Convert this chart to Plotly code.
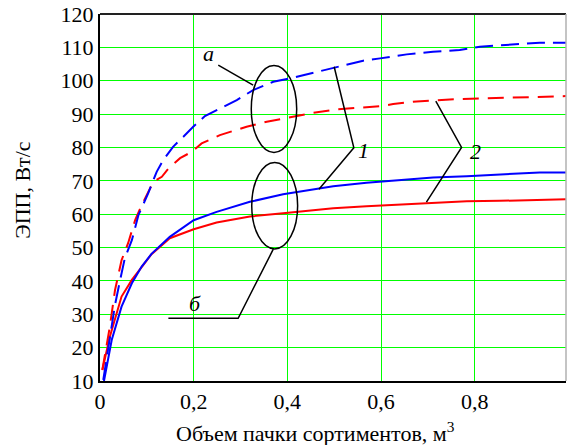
import plotly.graph_objects as go

# --- data ---
x_a1 = [0.007, 0.021, 0.032, 0.043, 0.053, 0.068, 0.082, 0.103, 0.121, 0.135, 0.156, 0.178, 0.199,
        0.224, 0.249, 0.292, 0.327, 0.37, 0.406, 0.463, 0.505, 0.562, 0.598, 0.655, 0.711, 0.768,
        0.811, 0.882, 0.939, 0.995]
y_a1 = [10.3, 22.3, 32.8, 40.3, 46.8, 52.2, 59.7, 66.3, 72.7, 76.2, 80.2, 83.2, 86.2,
        89.4, 91.2, 94.2, 97.2, 99.7, 100.7, 102.7, 104.2, 106.0, 106.7, 107.9, 108.7, 109.2,
        110.2, 110.9, 111.4, 111.4]

x_a2 = [0.005, 0.021, 0.032, 0.046, 0.06, 0.075, 0.089, 0.114, 0.132, 0.146, 0.171, 0.196, 0.217,
        0.256, 0.313, 0.356, 0.4, 0.448, 0.505, 0.6, 0.626, 0.676, 0.747, 0.811, 0.882, 0.995]
y_a2 = [13.3, 26.3, 37.2, 46.2, 51.3, 58.2, 62.7, 69.7, 71.2, 73.7, 76.8, 78.7, 81.2,
        83.7, 86.2, 87.7, 88.9, 90.2, 91.4, 92.4, 93.0, 93.8, 94.4, 94.7, 94.9, 95.4]

x_b1 = [0.0085, 0.025, 0.046, 0.068, 0.089, 0.11, 0.149, 0.2, 0.249, 0.32, 0.391, 0.448, 0.498,
        0.569, 0.64, 0.711, 0.783, 0.854, 0.939, 0.995]
y_b1 = [10.0, 22.3, 32.3, 39.3, 44.3, 48.1, 53.2, 58.2, 60.7, 63.7, 66.0, 67.2, 68.4,
        69.4, 70.2, 71.0, 71.4, 71.9, 72.5, 72.5]

x_b2 = [0.005, 0.021, 0.046, 0.068, 0.089, 0.11, 0.149, 0.2, 0.249, 0.32, 0.391, 0.448, 0.498,
        0.569, 0.64, 0.711, 0.783, 0.854, 0.939, 0.995]
y_b2 = [13.3, 23.3, 35.3, 40.3, 44.1, 48.0, 52.8, 55.5, 57.5, 59.3, 60.3, 61.0, 61.8,
        62.4, 62.9, 63.4, 63.9, 64.0, 64.4, 64.5]

x_ticks = [0, 0.2, 0.4, 0.6, 0.8]
x_tick_labels = ["0", "0,2", "0,4", "0,6", "0,8"]
y_ticks = [10, 20, 30, 40, 50, 60, 70, 80, 90, 100, 110, 120]

FONT = "Liberation Serif"
BLUE = "#0000ff"
RED = "#ff0000"

fig = go.Figure()
fig.add_trace(go.Scatter(x=x_b2, y=y_b2, mode="lines", line=dict(color=RED, width=2), showlegend=False))
fig.add_trace(go.Scatter(x=x_b1, y=y_b1, mode="lines", line=dict(color=BLUE, width=2), showlegend=False))
fig.add_trace(go.Scatter(x=x_a2, y=y_a2, mode="lines", line=dict(color=RED, width=2, dash="16px,9px"), showlegend=False))
fig.add_trace(go.Scatter(x=x_a1, y=y_a1, mode="lines", line=dict(color=BLUE, width=2, dash="18px,8px"), showlegend=False))

black = dict(color="black", width=1.5)
shapes = [
    # ellipses
    dict(type="circle", xref="x", yref="y", x0=0.323, x1=0.420, y0=78.5, y1=104.6, line=black),
    dict(type="circle", xref="x", yref="y", x0=0.324, x1=0.422, y0=49.6, y1=75.5, line=black),
    # leader lines
    dict(type="path", xref="x", yref="y", path="M 0.2525 104.7 L 0.327 98.7", line=black),
    dict(type="path", xref="x", yref="y", path="M 0.500 104.2 L 0.542 79.9 L 0.4675 67.5", line=black),
    dict(type="path", xref="x", yref="y", path="M 0.717 93.9 L 0.772 80.0 L 0.697 63.6", line=black),
    dict(type="path", xref="x", yref="y", path="M 0.370 49.5 L 0.295 28.8 L 0.146 28.8", line=black),
    # frame: top black, right grey
    dict(type="line", xref="paper", yref="paper", x0=0, x1=1, y0=1, y1=1, line=dict(color="#222222", width=2)),
    dict(type="line", xref="paper", yref="paper", x0=1, x1=1, y0=0, y1=1, line=dict(color="#b0b0b0", width=1.5)),
]

lab = dict(family=FONT, size=22, color="black")
annotations = [
    dict(x=0.2327, y=108.3, xref="x", yref="y", text="<i>а</i>", showarrow=False, font=lab),
    dict(x=0.5635, y=79.2, xref="x", yref="y", text="<i>1</i>", showarrow=False, font=lab),
    dict(x=0.802, y=78.7, xref="x", yref="y", text="<i>2</i>", showarrow=False, font=lab),
    dict(x=0.2028, y=33.3, xref="x", yref="y", text="<i>б</i>", showarrow=False, font=lab),
    dict(x=-0.168, y=0.52, xref="paper", yref="paper", text="ЭПП, Вт/с", textangle=-90,
         showarrow=False, font=lab, xanchor="center", yanchor="middle"),
    dict(x=(315 - 100) / 466, y=-51 / 367, xref="paper", yref="paper",
         text="Объем пачки сортиментов, м<sup>3</sup>", showarrow=False, font=lab,
         xanchor="center", yanchor="middle"),
]

fig.update_layout(
    width=567, height=445,
    margin=dict(l=100, r=1, t=14, b=64),
    paper_bgcolor="white", plot_bgcolor="white",
    font=dict(family=FONT, size=22, color="black"),
    shapes=shapes, annotations=annotations,
    xaxis=dict(range=[0, 0.995], tickvals=x_ticks, ticktext=x_tick_labels,
               showgrid=True, gridcolor="#00ff00", gridwidth=1, zeroline=False,
               showline=True, linecolor="black", linewidth=2, ticks=""),
    yaxis=dict(range=[10, 120], tickvals=y_ticks,
               showgrid=True, gridcolor="#00ff00", gridwidth=1, zeroline=False,
               showline=True, linecolor="black", linewidth=2, ticks=""),
)

fig.write_html("out.html", config={"displayModeBar": False},
               post_script="document.body.style.margin='0';document.body.style.padding='0';")
